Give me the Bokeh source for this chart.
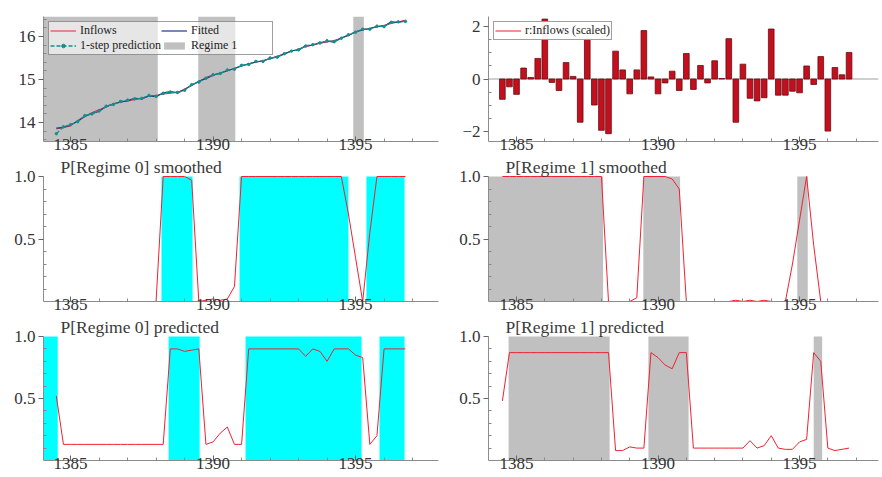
from bokeh.plotting import figure
from bokeh.layouts import gridplot
from bokeh.models import Range1d, FixedTicker, Label, Span, Legend, LegendItem
from bokeh.embed import file_html
from bokeh.resources import INLINE

# ---------------- data ----------------
start_year, start_quarter, n_obs = 1384, 3, 50
dates = [start_year + (start_quarter - 1 + k) / 4 for k in range(n_obs)]

inflows = [13.85, 13.88, 13.92, 14.05, 14.15, 14.23, 14.30, 14.36, 14.44, 14.48,
           14.50, 14.53, 14.57, 14.61, 14.63, 14.66, 14.68, 14.70, 14.78, 14.86,
           14.95, 15.05, 15.10, 15.14, 15.20, 15.26, 15.32, 15.37, 15.40, 15.44,
           15.48, 15.54, 15.60, 15.66, 15.71, 15.76, 15.80, 15.84, 15.87, 15.91,
           15.96, 16.02, 16.10, 16.15, 16.19, 16.23, 16.26, 16.30, 16.34, 16.38]
fitted = [13.87, 13.89, 13.94, 14.03, 14.14, 14.21, 14.26, 14.37, 14.43, 14.47,
          14.51, 14.56, 14.55, 14.62, 14.60, 14.69, 14.72, 14.69, 14.76, 14.87,
          14.96, 15.02, 15.10, 15.15, 15.21, 15.25, 15.32, 15.36, 15.41, 15.43,
          15.49, 15.53, 15.59, 15.67, 15.68, 15.79, 15.80, 15.86, 15.89, 15.87,
          15.97, 16.03, 16.11, 16.16, 16.18, 16.23, 16.24, 16.34, 16.33, 16.36]
onestep = [13.74, 13.90, 13.95, 14.02, 14.16, 14.20, 14.27, 14.38, 14.42, 14.49,
           14.52, 14.55, 14.56, 14.63, 14.61, 14.68, 14.71, 14.70, 14.75, 14.88,
           14.94, 15.03, 15.11, 15.14, 15.22, 15.24, 15.33, 15.35, 15.42, 15.42,
           15.50, 15.52, 15.60, 15.66, 15.69, 15.78, 15.81, 15.85, 15.90, 15.88,
           15.96, 16.04, 16.10, 16.17, 16.17, 16.24, 16.23, 16.33, 16.34, 16.35]
residuals = [-0.78, -0.30, -0.59, 0.42, 0.06, 0.79, 2.30, -0.13, -0.44, 0.63,
             0.10, -1.66, 1.55, -1.00, -1.97, -2.10, 1.07, 0.35, -0.57, 0.35,
             1.86, 0.08, -0.57, -0.15, 0.30, -0.44, 0.98, -0.40, 0.52, -0.15,
             0.70, 0.02, 1.55, -1.66, 0.57, -0.74, -0.84, -0.72, 1.92, -0.62,
             -0.62, -0.47, -0.53, 0.50, -0.21, 0.86, -2.00, 0.44, 0.16, 1.02]
p0_smoothed = [0.0, 0.0, 0.0, 0.0, 0.0, 0.0, 0.0, 0.0, 0.0, 0.0,
               0.0, 0.0, 0.0, 0.0, 0.0, 1.0, 1.0, 1.0, 1.0, 0.97,
               0.0, 0.01, 0.02, 0.01, 0.02, 0.12, 1.0, 1.0, 1.0, 1.0,
               1.0, 1.0, 1.0, 1.0, 1.0, 1.0, 1.0, 1.0, 1.0, 1.0,
               1.0, 0.70, 0.35, 0.0, 0.55, 1.0, 1.0, 1.0, 1.0, 1.0]
p1_smoothed = [1.0, 1.0, 1.0, 1.0, 1.0, 1.0, 1.0, 1.0, 1.0, 1.0,
               1.0, 1.0, 1.0, 1.0, 1.0, 0.0, 0.0, 0.0, 0.0, 0.03,
               1.0, 1.0, 1.0, 1.0, 0.98, 0.90, 0.0, 0.0, 0.0, 0.0,
               0.0, 0.0, 0.0, 0.01, 0.0, 0.01, 0.0, 0.01, 0.0, 0.0,
               0.0, 0.30, 0.65, 1.0, 0.45, 0.0, 0.0, 0.0, 0.0, 0.0]
p0_predicted = [0.52, 0.13, 0.13, 0.13, 0.13, 0.13, 0.13, 0.13, 0.13, 0.13,
                0.13, 0.13, 0.13, 0.13, 0.13, 0.13, 0.90, 0.90, 0.88, 0.89,
                0.90, 0.13, 0.15, 0.22, 0.27, 0.13, 0.13, 0.90, 0.90, 0.90,
                0.90, 0.90, 0.90, 0.90, 0.90, 0.84, 0.90, 0.88, 0.80, 0.90,
                0.90, 0.90, 0.85, 0.83, 0.13, 0.20, 0.90, 0.90, 0.90, 0.90]
p1_predicted = [0.48, 0.87, 0.87, 0.87, 0.87, 0.87, 0.87, 0.87, 0.87, 0.87,
                0.87, 0.87, 0.87, 0.87, 0.87, 0.87, 0.08, 0.08, 0.11, 0.10,
                0.10, 0.87, 0.83, 0.77, 0.74, 0.87, 0.87, 0.10, 0.10, 0.10,
                0.10, 0.10, 0.10, 0.10, 0.10, 0.16, 0.10, 0.12, 0.20, 0.10,
                0.09, 0.09, 0.15, 0.17, 0.87, 0.80, 0.10, 0.08, 0.09, 0.10]

# regime classification periods (start, end)
regime1_smoothed_start = [1384.0, 1389.48, 1394.92]
regime1_smoothed_end = [1388.06, 1390.78, 1395.29]
regime0_smoothed_start = [1388.19, 1390.93, 1395.38]
regime0_smoothed_end = [1389.28, 1394.75, 1396.72]
regime1_predicted_start = [1384.72, 1389.66, 1395.50]
regime1_predicted_end = [1388.29, 1391.08, 1395.80]
regime0_predicted_start = [1384.0, 1388.44, 1391.14, 1395.84]
regime0_predicted_end = [1384.55, 1389.53, 1395.21, 1396.72]

x_major = [1385, 1390, 1395]
x_minor = [1384, 1386, 1387, 1388, 1389, 1391, 1392, 1393, 1394, 1396, 1397, 1398]

# ---------------- style ----------------
FONT = "Liberation Serif"
AXIS_COL = "#8c8c8c"
TXT_COL = "#333333"
RED = "#ee2233"
GRAY = "#c0c0c0"
CYAN = "#00ffff"

XL = (1384.05, 1397.91)
XR = (1384.01, 1397.79)
WL, WR = 450, 430
BL, BRL = 43, 12
BR_L, BR_R = 38, 2
BB = 16          # bottom border (x tick labels)
GAP = 19         # space above the 1.0 level for panel titles


def make_fig(width, height, xr, yr, bl, br, bt, bb):
    p = figure(width=width, height=height, x_range=Range1d(*xr), y_range=Range1d(*yr),
               output_backend="svg", toolbar_location=None,
               min_border_left=bl, min_border_right=br,
               min_border_top=bt, min_border_bottom=bb)
    p.title.visible = False
    p.xgrid.visible = False
    p.ygrid.visible = False
    p.outline_line_color = None
    p.background_fill_color = "white"
    p.border_fill_color = "white"
    xa = p.xaxis[0]
    xa.ticker = FixedTicker(ticks=x_major, minor_ticks=x_minor)
    xa.major_tick_in = 5
    xa.major_tick_out = 0
    xa.minor_tick_in = 3
    xa.minor_tick_out = 0
    ya = p.yaxis[0]
    ya.major_tick_in = 0
    ya.major_tick_out = 5
    ya.minor_tick_in = 3
    ya.minor_tick_out = 0
    for ax in (xa, ya):
        ax.axis_line_color = AXIS_COL
        ax.major_tick_line_color = "#666666"
        ax.minor_tick_line_color = "#888888"
        ax.major_label_text_font = FONT
        ax.major_label_text_font_size = "17px"
        ax.major_label_text_color = TXT_COL
    xa.major_label_standoff = -3
    ya.major_label_standoff = 3
    return p


def prob_fig(width, height, xr, bl, br, title, probs, band_s, band_e, band_col):
    unit_px = height - BB - GAP
    top = 1.0 + GAP / unit_px
    p = make_fig(width, height, xr, (0.0, top), bl, br, 0, BB)
    ya = p.yaxis[0]
    ya.bounds = (0, 1)
    ya.ticker = FixedTicker(ticks=[0.5, 1.0],
                            minor_ticks=[0.1, 0.2, 0.3, 0.4, 0.6, 0.7, 0.8, 0.9])
    ya.major_label_overrides = {0.5: "0.5", 1.0: "1.0"}
    p.quad(left=band_s, right=band_e, bottom=[0] * len(band_s), top=[1] * len(band_s),
           fill_color=band_col, line_color=None)
    p.line(dates, probs, color=RED, line_width=1)
    p.add_layout(Label(x=xr[0], y=1.0, x_offset=17, text=title, text_baseline="bottom",
                       text_font=FONT, text_font_size="17.5px", text_color="#3a3a3a"))
    return p


def style_legend(lg, size):
    lg.label_text_font = FONT
    lg.label_text_font_size = size
    lg.label_text_color = "#222222"
    lg.glyph_height = 9
    lg.label_height = 9
    lg.label_standoff = 4
    lg.border_line_color = "#404040"


# ---- row 1 left: Inflows ----
H1 = 157
YL1 = (13.558, 16.465)
p1 = make_fig(WL, H1, XL, YL1, BL, BRL, 16, BB)
p1.yaxis[0].ticker = FixedTicker(ticks=[14, 15, 16],
                                 minor_ticks=[13.6, 13.8, 14.2, 14.4, 14.6, 14.8, 15.2,
                                              15.4, 15.6, 15.8, 16.2, 16.4])
rq = p1.quad(left=regime1_smoothed_start, right=regime1_smoothed_end,
             bottom=[YL1[0]] * 3, top=[YL1[1]] * 3, fill_color=GRAY, line_color=None)
r_in = p1.line(dates, inflows, color=RED, line_width=1)
r_fit = p1.line(dates, fitted, color="#1c3c8c", line_width=1.2)
r_os = p1.line(dates, onestep, color="#14908c", line_width=1.3, line_dash="4 2")
r_osm = p1.scatter(dates, onestep, size=2.5, color="#14908c")
leg1 = Legend(items=[LegendItem(label="Inflows", renderers=[r_in]),
                     LegendItem(label="Fitted", renderers=[r_fit]),
                     LegendItem(label="1-step prediction", renderers=[r_os, r_osm]),
                     LegendItem(label="Regime 1", renderers=[rq])],
              location="top_left", orientation="horizontal", ncols=2)
style_legend(leg1, "12px")
leg1.glyph_width = 26
leg1.label_width = 80
leg1.padding = 1
leg1.spacing = 0
leg1.margin = 5
leg1.background_fill_alpha = 0.6
p1.add_layout(leg1)

# ---- row 1 right: residuals ----
p2 = make_fig(WR, H1, XR, (-2.4, 2.4), BR_L, BR_R, 16, BB)
p2.yaxis[0].ticker = FixedTicker(ticks=[-2, 0, 2],
                                 minor_ticks=[-1.5, -1, -0.5, 0.5, 1, 1.5])
p2.add_layout(Span(location=0, dimension="width", line_color="#a0a0a0", line_width=1,
                   level="underlay"))
p2.vbar(x=dates, top=residuals, bottom=0, width=0.2, fill_color="#c4101e",
        line_color="#6a0a10", line_width=0.8)
r_res = p2.line(x=dates[:1], y=[0], color=RED, line_width=1)
leg2 = Legend(items=[LegendItem(label="r:Inflows (scaled)", renderers=[r_res])],
              location="top_left")
style_legend(leg2, "12px")
leg2.glyph_width = 26
leg2.padding = 1
leg2.spacing = 0
leg2.margin = 5
leg2.level = "underlay"
p2.add_layout(leg2)

# ---- rows 2 and 3 ----
H2, H3 = 160, 159
p3 = prob_fig(WL, H2, XL, BL, BRL, "P[Regime 0] smoothed", p0_smoothed,
              regime0_smoothed_start, regime0_smoothed_end, CYAN)
p4 = prob_fig(WR, H2, XR, BR_L, BR_R, "P[Regime 1] smoothed", p1_smoothed,
              regime1_smoothed_start, regime1_smoothed_end, GRAY)
p5 = prob_fig(WL, H3, XL, BL, BRL, "P[Regime 0] predicted", p0_predicted,
              regime0_predicted_start, regime0_predicted_end, CYAN)
p6 = prob_fig(WR, H3, XR, BR_L, BR_R, "P[Regime 1] predicted", p1_predicted,
              regime1_predicted_start, regime1_predicted_end, GRAY)

grid = gridplot([[p1, p2], [p3, p4], [p5, p6]], toolbar_location=None)
open("out.html", "w").write(file_html(grid, INLINE))
